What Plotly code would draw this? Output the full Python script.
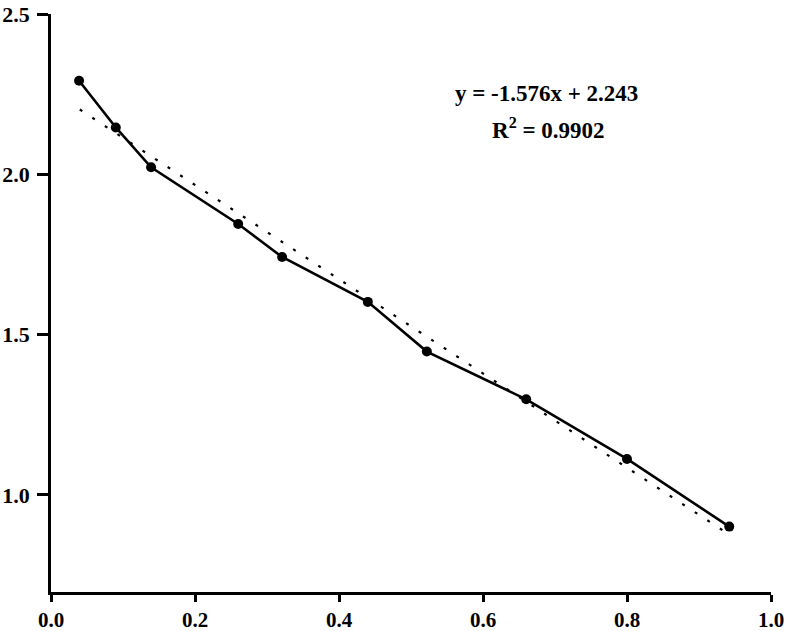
import plotly.graph_objects as go

x_vals = [0.039, 0.090, 0.139, 0.260, 0.321, 0.440, 0.522, 0.660, 0.800, 0.942]
y_vals = [2.292, 2.146, 2.022, 1.845, 1.742, 1.602, 1.447, 1.298, 1.112, 0.901]
# dotted trend line endpoints as drawn in the reference
trend_x = [0.040, 0.942]
trend_y = [2.202, 0.876]
eq_text = "y = -1.576x + 2.243"
r2_text = "R<sup>2</sup> = 0.9902"
x_ticks = [0.0, 0.2, 0.4, 0.6, 0.8, 1.0]
y_ticks = [1.0, 1.5, 2.0, 2.5]

font_family = "Liberation Serif, Times New Roman, serif"

fig = go.Figure()
fig.add_trace(go.Scatter(x=trend_x, y=trend_y, mode="lines",
                         line=dict(color="black", width=2.2, dash="3px,12px"),
                         hoverinfo="skip", showlegend=False))
fig.add_trace(go.Scatter(x=x_vals, y=y_vals, mode="lines+markers",
                         line=dict(color="black", width=2.6),
                         marker=dict(color="black", size=10),
                         showlegend=False))

fig.add_annotation(x=0.688, y=2.252, xref="x", yref="y", text="<b>" + eq_text + "</b>",
                   showarrow=False,
                   font=dict(family=font_family, size=23, color="black"))
fig.add_annotation(x=0.691, y=2.143, xref="x", yref="y", text="<b>" + r2_text + "</b>",
                   showarrow=False,
                   font=dict(family=font_family, size=23, color="black"))

axis_common = dict(showgrid=False, zeroline=False, showline=True, linecolor="black",
                   linewidth=2.6, ticks="outside", tickwidth=2.6,
                   tickcolor="black", ticklabeloverflow="allow", automargin=False)

fig.update_xaxes(range=[0, 1.0], tickvals=x_ticks, ticktext=[f"{v:.1f}" for v in x_ticks],
                 ticklen=7,
                 tickfont=dict(family=font_family, size=21, color="black", weight="bold"),
                 **axis_common)
fig.update_yaxes(range=[0.697, 2.5], tickvals=y_ticks, ticktext=[f"{v:.1f}" for v in y_ticks],
                 ticklen=11, ticklabelstandoff=3,
                 tickfont=dict(family=font_family, size=22, color="black", weight="bold"),
                 **axis_common)

fig.update_layout(width=788, height=631, plot_bgcolor="white", paper_bgcolor="white",
                  margin=dict(l=51, r=17, t=14, b=39, autoexpand=False))

fig.write_html("out.html")
